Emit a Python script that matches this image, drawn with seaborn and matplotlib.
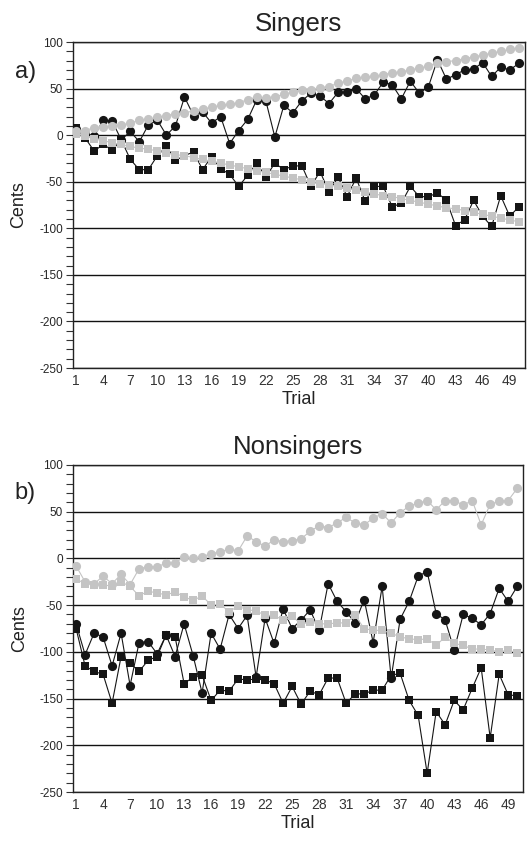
import numpy as np
import pandas as pd
import seaborn as sns
import matplotlib.pyplot as plt
from matplotlib.ticker import MultipleLocator

sns.set_style("white")
plt.rcParams['font.family'] = ['Liberation Sans', 'DejaVu Sans']
plt.rcParams['axes.unicode_minus'] = False

trials = list(range(1, 51))
xtick_vals = list(range(1, 51, 3))

# Singers
sing_up_target = [4, 5, 8, 9, 10, 11, 13, 16, 17, 19, 21, 23, 24, 26, 28, 30, 32, 33, 35, 38,
                  41, 40, 41, 44, 46, 48, 49, 51, 52, 56, 58, 61, 62, 63, 65, 67, 68, 70, 72, 74,
                  78, 79, 80, 82, 84, 86, 88, 90, 92, 94]
sing_up_resp = [7, 2, -1, 16, 15, -5, 4, -7, 11, 16, 0, 10, 41, 21, 25, 13, 20, -9, 5, 17,
                38, 37, -2, 32, 24, 37, 45, 42, 34, 46, 46, 50, 39, 43, 57, 54, 39, 58, 45, 52,
                81, 60, 65, 70, 71, 78, 63, 73, 70, 77]
sing_dn_target = [1, -1, -4, -6, -8, -10, -12, -14, -15, -17, -19, -21, -22, -24, -26, -28, -30, -32, -34, -36,
                  -38, -40, -42, -44, -46, -48, -50, -52, -53, -55, -57, -59, -61, -63, -65, -66, -68, -70, -72, -74,
                  -76, -78, -79, -81, -83, -85, -87, -89, -91, -93]
sing_dn_resp = [8, -3, -17, -10, -16, -5, -26, -37, -37, -22, -12, -27, -22, -18, -37, -23, -36, -42, -55, -43,
                -30, -45, -30, -37, -33, -33, -55, -39, -61, -45, -66, -46, -71, -55, -55, -77, -73, -55, -66, -66,
                -62, -70, -97, -91, -70, -87, -98, -65, -87, -77]

# Nonsingers
non_up_target = [-8, -25, -27, -19, -27, -17, -28, -11, -9, -9, -5, -5, 2, 0, 2, 5, 7, 10, 8, 24,
                 18, 13, 20, 18, 19, 21, 29, 35, 33, 38, 44, 38, 36, 43, 48, 38, 49, 56, 59, 62,
                 52, 62, 62, 57, 62, 36, 58, 61, 62, 75]
non_up_resp = [-70, -103, -80, -84, -115, -80, -136, -90, -89, -102, -82, -105, -70, -104, -144, -80, -97, -60, -75, -61,
               -127, -64, -91, -54, -75, -66, -55, -77, -27, -46, -57, -69, -44, -90, -30, -128, -65, -46, -19, -14,
               -59, -66, -98, -60, -64, -71, -59, -32, -46, -30]
non_dn_target = [-22, -27, -28, -28, -30, -25, -30, -40, -35, -37, -39, -36, -41, -45, -40, -50, -49, -57, -51, -55,
                 -56, -61, -61, -66, -62, -70, -68, -70, -70, -69, -69, -61, -75, -77, -77, -80, -84, -86, -87, -86,
                 -93, -84, -91, -93, -97, -97, -98, -100, -98, -101]
non_dn_resp = [-75, -115, -121, -124, -155, -105, -112, -121, -109, -105, -82, -84, -134, -127, -125, -152, -141, -142, -129, -130,
               -129, -130, -134, -155, -137, -156, -142, -146, -128, -128, -155, -145, -145, -141, -141, -125, -123, -152, -168, -230,
               -164, -178, -152, -162, -139, -117, -192, -124, -146, -147]

panels = [
    ("Singers", "a)", sing_up_resp, sing_dn_resp, sing_up_target, sing_dn_target),
    ("Nonsingers", "b)", non_up_resp, non_dn_resp, non_up_target, non_dn_target),
]

fig = plt.figure(figsize=(5.31, 8.49), dpi=100)
ax_a = fig.add_axes([0.137, 0.5665, 0.851, 0.384])
ax_b = fig.add_axes([0.137, 0.0671, 0.848, 0.3852])

black = '#151515'
grey = '#c4c4c4'

for ax, (title, tag, up_r, dn_r, up_t, dn_t) in zip([ax_a, ax_b], panels):
    df = pd.DataFrame({'Trial': trials, 'up_r': up_r, 'dn_r': dn_r, 'up_t': up_t, 'dn_t': dn_t})

    # responses (black) first, targets (grey) drawn on top
    sns.lineplot(data=df, x='Trial', y='up_r', ax=ax, color=black, lw=0.8,
                 marker='o', markersize=6.6, markeredgewidth=0, zorder=3)
    sns.lineplot(data=df, x='Trial', y='dn_r', ax=ax, color=black, lw=0.8,
                 marker='s', markersize=6.3, markeredgewidth=0, zorder=3)
    sns.lineplot(data=df, x='Trial', y='up_t', ax=ax, color=grey, lw=0.8,
                 marker='o', markersize=6.6, markeredgewidth=0, zorder=4)
    sns.lineplot(data=df, x='Trial', y='dn_t', ax=ax, color=grey, lw=0.8,
                 marker='s', markersize=6.3, markeredgewidth=0, zorder=4)

    ax.set_xlim(0.63, 50.65)
    ax.set_ylim(-250, 100)
    ax.set_xticks(xtick_vals)
    ax.set_yticks(range(-250, 101, 50))
    ax.yaxis.set_minor_locator(MultipleLocator(10))
    ax.tick_params(axis='x', length=0, labelsize=10, pad=4, labelcolor='#333333')
    ax.tick_params(axis='y', which='both', length=5, width=0.8, direction='out',
                   left=True, labelsize=8.5, pad=2, color='#333333')
    ax.grid(axis='y', which='major', color='#111111', lw=1.0)
    ax.grid(axis='x', visible=False)
    for s in ax.spines.values():
        s.set_color('#222222')
        s.set_linewidth(1.0)

    ax.set_title(title, fontsize=18.5, pad=8, color='#222222')
    ax.set_ylabel('Cents', fontsize=13, color='#222222')
    ax.set_xlabel('Trial', fontsize=13, color='#222222')
    ax.yaxis.set_label_coords(-0.1, 0.5)
    ax.xaxis.set_label_coords(0.5, -0.095)
    ax.xaxis.label.set_va('center')

fig.text(0.028, 1 - 72 / 849, 'a)', fontsize=17, va='center', ha='left', color='#222222')
fig.text(0.028, 1 - 493 / 849, 'b)', fontsize=17, va='center', ha='left', color='#222222')

fig.savefig('out.png', dpi=100)
